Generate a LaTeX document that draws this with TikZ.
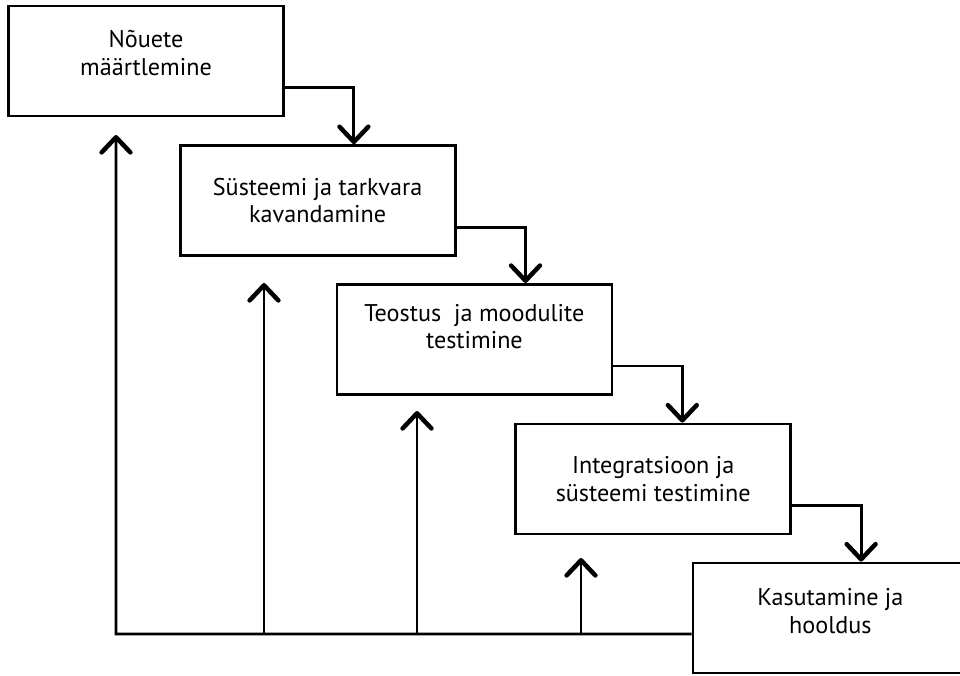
\documentclass[tikz,border=0pt]{standalone}
\usepackage{fontspec}
\setmainfont{PT Sans}
\usetikzlibrary{arrows.meta,positioning,calc}

\begin{document}
\begin{tikzpicture}[
    stage/.style={draw, rectangle, line width=2pt, minimum width=6.875cm, minimum height=2.75cm, align=center, font=\fontsize{17.2}{19.8}\selectfont},
    flow/.style={line width=2.1pt, -{Straight Barb[length=0.38cm, width=0.72cm, line width=3.2pt, round]}},
]

\useasboundingbox (0,0) rectangle (24,16.875);

% Phases
\node[stage, text depth=0.4cm] (req) at (3.65, 15.35) {Nõuete\\määrtlemine};
\node[stage] (kav) at (7.94, 11.86) {Süsteemi ja tarkvara\\kavandamine};
\node[stage, text depth=0.65cm] (teo) at (11.86, 8.39) {Teostus\ \ ja moodulite\\testimine};
\node[stage] (int) at (16.33, 4.9) {Integratsioon ja\\süsteemi testimine};
\node[stage, text depth=0.35cm] (kas) at (20.76, 1.425) {Kasutamine ja\\hooldus};

% Forward steps
\draw[flow] ([yshift=-2.075cm]req.north east) -| ($(req.east |- kav.north)+(1.725,0)$);
\draw[flow] ([yshift=-2.075cm]kav.north east) -| ($(kav.east |- teo.north)+(1.725,0)$);
\draw[flow] ([yshift=-2.075cm]teo.north east) -| ($(teo.east |- int.north)+(1.725,0)$);
\draw[flow] ([yshift=-2.075cm]int.north east) -| ($(int.east |- kas.north)+(1.725,0)$);

% Feedback
\coordinate (base) at (2.9, 1.025);
\coordinate (f2) at (6.6, 1.025);
\coordinate (f3) at (10.425, 1.025);
\coordinate (f4) at (14.525, 1.025);
\coordinate (r1) at (2.9, 13.5);
\coordinate (r2) at (6.6, 9.8);
\coordinate (r3) at (10.425, 6.6);
\coordinate (r4) at (14.525, 2.925);

\draw[flow] ([yshift=-0.4cm]kas.west) -- (base) -- (r1);
\draw[flow] (f2) -- (r2);
\draw[flow] (f3) -- (r3);
\draw[flow] (f4) -- (r4);

\end{tikzpicture}
\end{document}
